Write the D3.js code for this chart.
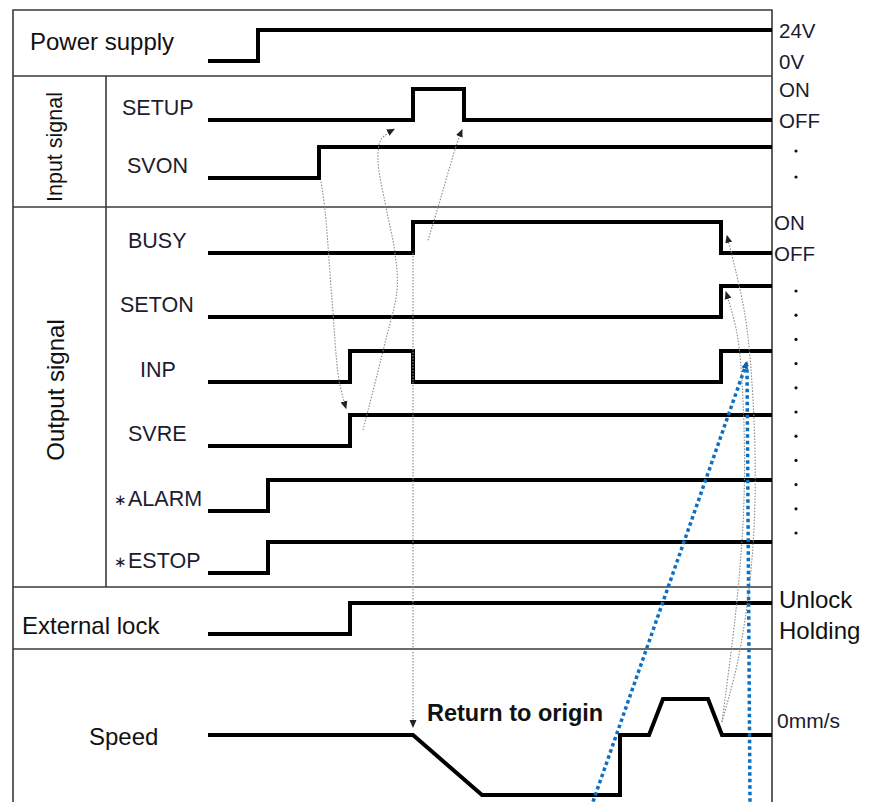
<!DOCTYPE html>
<html>
<head>
<meta charset="utf-8">
<script src="https://d3js.org/d3.v7.min.js"></script>
<style>
  body { margin: 0; background: #fff; }
  text { font-family: "Liberation Sans", Arial, sans-serif; fill: #111; }
</style>
</head>
<body>
<div id="chart"></div>
<script type="text/javascript">
  // signals (time in arbitrary units, level 0 = low / 1 = high)
  const signalNames = ["Power supply", "SETUP", "SVON", "BUSY", "SETON", "INP", "SVRE", "\u2217ALARM", "\u2217ESTOP", "External lock"];
  const signalToggles = [[50], [205, 256], [111], [205, 513], [513], [142, 205, 513], [142], [60], [60], [142]];

  // speed profile
  const speedTimes = [0, 205, 274, 412, 412, 441, 455, 500, 514, 564];
  const speedValues = [0, 0, -50, -50, 0, 0, 30, 30, 0, 0];

  // state labels on the right (high, low)
  const stateLabels = [["24V", "0V"], ["ON", "OFF"], ["ON", "OFF"], ["Unlock", "Holding"]];
  const stateRows = ["Power supply", "SETUP", "BUSY", "External lock"];

  // dotted timing arrows, [time, lane]
  const grayArrows = [
    [[113, 2.05], [117, 2.43], [124, 3.73], [131, 4.97], [138, 5.41]],
    [[155, 5.75], [177, 4.4], [189, 3.58], [187, 3.0], [178, 2.39], [170, 1.69], [173, 1.34], [186, 1.16]],
    [[220, 2.83], [230, 2.39], [249, 1.40], [254, 1.17]],
    [[205, 3.0], [205, 9.92]],
    [[514, 9.87], [530, 9.26], [542, 8.11], [547, 6.83], [545, 5.28], [537, 3.97], [519, 2.77]],
    [[514, 9.87], [529, 8.44], [536, 6.83], [535, 5.28], [529, 4.25], [518, 3.61]]
  ];
  const blueArrows = [
    [[385, 10.66], [539, 4.69]],
    [[542, 10.66], [539, 4.74]]
  ];

  const width = 875, height = 802;
  const T_END = 564;

  const x = d3.scaleLinear().domain([0, T_END]).range([208, 772]);
  // low level of each lane (last lane = speed 0)
  const lane = d3.scaleLinear()
    .domain(d3.range(11))
    .range([61, 120, 178, 253, 317, 382, 446, 511, 573, 634, 735]);
  const level = d3.scaleLinear().domain([0, 1]).range([0, -31]);
  const speedY = d3.scaleLinear().domain([-50, 30]).range([795, 699]);

  const svg = d3.select("#chart").append("svg")
    .attr("width", width)
    .attr("height", height);

  const defs = svg.append("defs");
  function marker(id, color) {
    defs.append("marker")
      .attr("id", id)
      .attr("viewBox", "0 -4 8 8")
      .attr("refX", 7)
      .attr("refY", 0)
      .attr("markerUnits", "userSpaceOnUse")
      .attr("markerWidth", 8)
      .attr("markerHeight", 8)
      .attr("orient", "auto")
      .append("path")
      .attr("d", "M0,-3.5L8,0L0,3.5Z")
      .attr("fill", color);
  }
  marker("ag", "#222");
  marker("ab", "#0b5ea8");

  // frame
  const frame = svg.append("g").attr("stroke", "#3a3a3a").attr("stroke-width", 1.6).attr("fill", "none");
  frame.append("path").attr("d", "M13,802V10H772V802");
  [76, 207, 587, 649].forEach(function(yy) {
    frame.append("line").attr("x1", 13).attr("x2", 772).attr("y1", yy).attr("y2", yy);
  });
  frame.append("line").attr("x1", 106).attr("x2", 106).attr("y1", 76).attr("y2", 587);

  // group labels
  svg.append("text").attr("x", 30).attr("y", 50).style("font-size", "24px").text("Power supply");
  svg.append("text").attr("transform", "translate(62,147) rotate(-90)").attr("text-anchor", "middle")
    .style("font-size", "21.5px").text("Input signal");
  svg.append("text").attr("transform", "translate(64,390) rotate(-90)").attr("text-anchor", "middle")
    .style("font-size", "24px").text("Output signal");
  svg.append("text").attr("x", 22).attr("y", 634).style("font-size", "24px").text("External lock");
  svg.append("text").attr("x", 89).attr("y", 745).style("font-size", "24px").text("Speed");

  // signal names
  const nameX = [null, 122, 127, 128, 120, 140, 128, 114, 114, null];
  signalNames.forEach(function(n, i) {
    if (nameX[i] === null) return;
    const t = svg.append("text")
      .attr("x", nameX[i])
      .attr("y", lane(i) - 5)
      .style("font-size", "21.5px")
      .style("fill", "#1c1c30");
    if (n.charAt(0) === "\u2217") {
      t.append("tspan").style("font-size", "15px").attr("dy", -1).text(n.charAt(0));
      t.append("tspan").attr("dy", 1).attr("dx", 1).text(n.slice(1));
    } else {
      t.text(n);
    }
  });

  // signal lines
  const line = d3.line()
    .x(function(d) { return x(d[0]); })
    .y(function(d) { return d[1]; });

  signalNames.forEach(function(n, i) {
    let lv = 0;
    const pts = [[0, lane(i) + level(0)]];
    signalToggles[i].forEach(function(t) {
      pts.push([t, lane(i) + level(lv)]);
      lv = 1 - lv;
      pts.push([t, lane(i) + level(lv)]);
    });
    pts.push([T_END, lane(i) + level(lv)]);
    svg.append("path")
      .attr("d", line(pts))
      .attr("fill", "none")
      .attr("stroke", "#000")
      .attr("stroke-width", 4)
      .attr("stroke-linejoin", "miter");
  });

  // speed
  svg.append("path")
    .attr("d", line(speedTimes.map(function(t, i) { return [t, speedY(speedValues[i])]; })))
    .attr("fill", "none")
    .attr("stroke", "#000")
    .attr("stroke-width", 4)
    .attr("stroke-linejoin", "miter");

  svg.append("text").attr("x", 427).attr("y", 721)
    .style("font-size", "23.5px").style("font-weight", "bold").text("Return to origin");
  svg.append("text").attr("x", 777).attr("y", 728)
    .style("font-size", "21px").style("fill", "#1c1c30").text("0mm/s");

  // state labels
  stateRows.forEach(function(r, i) {
    const li = signalNames.indexOf(r);
    const big = r === "External lock";
    [1, 0].forEach(function(lv, j) {
      svg.append("text")
        .attr("x", li === 3 ? 774 : 779)
        .attr("y", lane(li) + level(lv) + (big ? 5 : 8))
        .style("font-size", big ? "24px" : "20.5px")
        .style("fill", big ? "#111" : "#1c1c30")
        .text(stateLabels[i][j]);
    });
  });

  // ditto dots
  const dotsA = [lane(2) + level(1) + 4, lane(2) - 1];
  const dotScale = d3.scaleLinear().domain([0, 10]).range([291, 533]);
  svg.append("g").selectAll("circle")
    .data(dotsA.concat(d3.range(11).map(dotScale)))
    .enter().append("circle")
    .attr("cx", 796)
    .attr("cy", function(d) { return d; })
    .attr("r", 1.6)
    .attr("fill", "#111");

  // annotations
  const aline = d3.line()
    .x(function(d) { return x(d[0]); })
    .y(function(d) { return lane(d[1]); })
    .curve(d3.curveCatmullRom);

  svg.append("g").selectAll("path")
    .data(grayArrows)
    .enter().append("path")
    .attr("d", aline)
    .attr("fill", "none")
    .attr("stroke", "#8a8a8a")
    .attr("stroke-width", 1.1)
    .attr("stroke-dasharray", "1.5,1.5")
    .attr("marker-end", "url(#ag)");

  svg.append("g").selectAll("path")
    .data(blueArrows)
    .enter().append("path")
    .attr("d", aline)
    .attr("fill", "none")
    .attr("stroke", "#0b6fc2")
    .attr("stroke-width", 3.5)
    .attr("stroke-dasharray", "3.5,3")
    .attr("marker-end", function(d, i) { return i === 0 ? "url(#ab)" : null; });
</script>
</body>
</html>
